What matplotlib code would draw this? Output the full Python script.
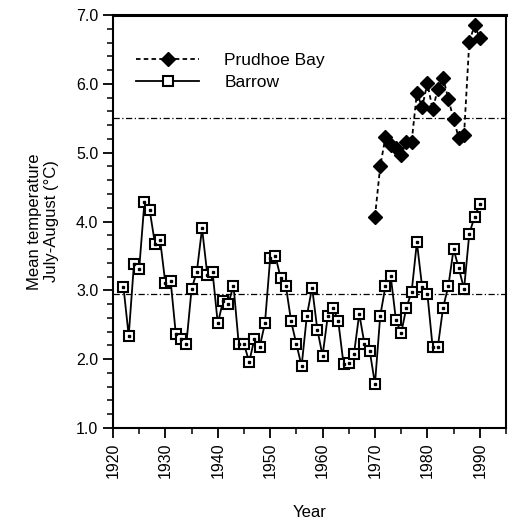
import matplotlib
matplotlib.use("Agg")
import matplotlib.pyplot as plt
from matplotlib.ticker import MultipleLocator

plt.rcParams['font.family'] = ['Liberation Sans', 'DejaVu Sans']

barrow_years = list(range(1922, 1991))
barrow_temp = [3.05, 2.34, 3.38, 3.31, 4.28, 4.17, 3.68, 3.73, 3.10, 3.14,
               2.36, 2.29, 2.22, 3.02, 3.27, 3.90, 3.23, 3.27, 2.52, 2.84,
               2.80, 3.07, 2.22, 2.22, 1.96, 2.30, 2.18, 2.52, 3.47, 3.50,
               3.18, 3.06, 2.55, 2.22, 1.90, 2.63, 3.04, 2.43, 2.05, 2.63,
               2.75, 2.55, 1.93, 1.95, 2.08, 2.66, 2.22, 2.12, 1.64, 2.63,
               3.06, 3.21, 2.57, 2.38, 2.75, 2.98, 3.70, 3.05, 2.95, 2.18,
               2.18, 2.75, 3.06, 3.60, 3.32, 3.02, 3.82, 4.07, 4.25]

prudhoe_years = list(range(1970, 1991))
prudhoe_temp = [4.07, 4.80, 5.23, 5.11, 5.07, 4.97, 5.15, 5.16, 5.87, 5.66,
                6.01, 5.63, 5.92, 6.09, 5.78, 5.49, 5.21, 5.26, 6.61, 6.85, 6.67]

prudhoe_mean = 5.5
barrow_mean = 2.95

x_ticks = [1920, 1930, 1940, 1950, 1960, 1970, 1980, 1990]
y_ticks = [1.0, 2.0, 3.0, 4.0, 5.0, 6.0, 7.0]

fig = plt.figure(figsize=(5.08, 5.19), dpi=100)
ax = fig.add_axes([0.2224, 0.1753, 0.7736, 0.7957])

ax.axhline(prudhoe_mean, color='black', lw=0.9, linestyle=(0, (5, 2, 1, 2)))
ax.axhline(barrow_mean, color='black', lw=0.9, linestyle=(0, (5, 2, 1, 2)))

ax.plot(prudhoe_years, prudhoe_temp, linestyle=(0, (2.5, 1.8)), color='black', lw=1.3,
        marker='D', markersize=7, markerfacecolor='black', markeredgecolor='black',
        label='Prudhoe Bay')
ax.plot(barrow_years, barrow_temp, linestyle='-', color='black', lw=1.3,
        marker='s', markersize=6.5, markerfacecolor='white', markeredgecolor='black',
        markeredgewidth=1.5, label='Barrow')
ax.plot(barrow_years, barrow_temp, linestyle='none', marker='s', markersize=1.5,
        color='black')

ax.set_xlim(1920, 1995)
ax.set_ylim(1.0, 7.0)
ax.set_xticks(x_ticks)
ax.set_xticklabels([str(v) for v in x_ticks], rotation=90, fontsize=11.5)
ax.set_yticks(y_ticks)
ax.set_yticklabels([f"{v:.1f}" for v in y_ticks], fontsize=11.5)
ax.xaxis.set_minor_locator(MultipleLocator(5))
ax.yaxis.set_minor_locator(MultipleLocator(0.2))
ax.tick_params(axis='both', which='major', direction='out', length=7, width=1.3, color='black')
ax.tick_params(axis='both', which='minor', direction='out', length=4, width=1.1)
ax.tick_params(top=False, right=False)
for s in ax.spines.values():
    s.set_linewidth(1.5)
ax.spines['top'].set_linewidth(2.2)

ax.set_xlabel('Year', fontsize=12, labelpad=19)
ax.set_ylabel('Mean temperature\nJuly-August (°C)', fontsize=12, labelpad=12)

leg = ax.legend(loc='upper left', bbox_to_anchor=(0.02, 0.946), frameon=False, fontsize=12.5,
                handlelength=3.6, handletextpad=1.45, labelspacing=0.4, borderaxespad=0.5)

fig.savefig('out.png', dpi=100)
